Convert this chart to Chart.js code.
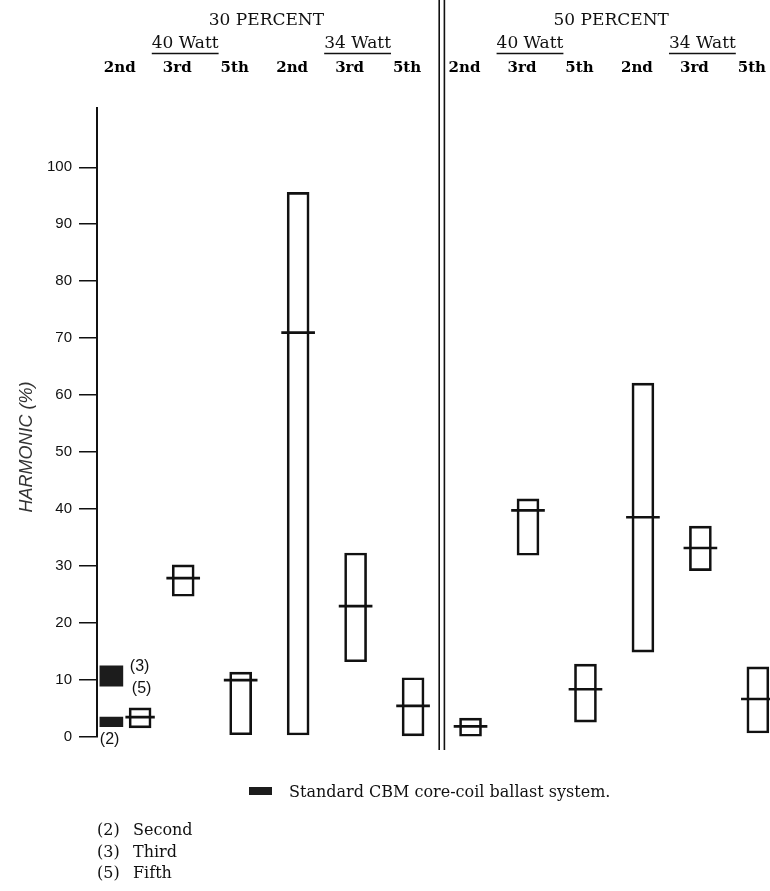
<!DOCTYPE html>
<html><head><meta charset="utf-8">
<script src="https://cdn.jsdelivr.net/npm/chart.js@4.4.0/dist/chart.umd.min.js"></script>
<style>
html,body{margin:0;padding:0;background:#fff;overflow:hidden;}
#wrap{position:relative;width:770px;height:891px;overflow:hidden;background:#fff;}
#c{position:absolute;left:0;top:0;}
.t{position:absolute;font-family:'DejaVu Serif',serif;font-size:16px;color:#111;white-space:pre;line-height:16px;}
</style></head><body>
<div id="wrap"><canvas id="c" width="795" height="891"></canvas></div>
<script>
// ---- data ----
const categories = ['2nd','3rd','5th','2nd','3rd','5th','2nd','3rd','5th','2nd','3rd','5th'];
const wattGroups = ['40 Watt','34 Watt','40 Watt','34 Watt'];
const loadGroups = ['30 PERCENT','50 PERCENT'];
const rangeLow  = [1.6, 24.7, 0.4, 0.35, 13.2, 0.2, 0.0, 31.9, 2.6, 14.9, 29.2, 0.7];
const rangeHigh = [5.1, 30.2, 11.4, 95.6, 32.3, 10.4, 3.3, 41.8, 12.8, 62.1, 37.0, 12.3];
const medians   = [3.3, 27.7, 9.8, 70.8, 22.8, 5.3, 1.7, 39.6, 8.2, 38.4, 33.0, 6.5];
const stdThirdFifth = [8.9, 12.5];
const stdSecond = [1.8, 3.5];
const yTicks = [0,10,20,30,40,50,60,70,80,90,100];
const yTitle = 'HARMONIC (%)';
const legendText = 'Standard CBM core-coil ballast system.';
const footnotes = [['(2)','Second'],['(3)','Third'],['(5)','Fifth']];
const Y_MIN = 0, Y_MAX = 110.4;

// ---- html text ----
const wrap = document.getElementById('wrap');
function addDiv(txt, css){ const d=document.createElement('div'); d.className='t'; d.textContent=txt; d.style.cssText+=css; wrap.appendChild(d); return d; }
addDiv('', 'left:249px;top:787px;width:23px;height:8px;background:#1c1c1c;');
addDiv(legendText, 'left:289px;top:784px;');
footnotes.forEach((f,i)=>{
  const top = 822 + i*21.5;
  addDiv(f[0], 'left:97px;top:'+top+'px;');
  addDiv(f[1], 'left:133px;top:'+top+'px;');
});

const onlyFirst = r => categories.map((_, i) => i === 0 ? r : null);

const annot = {
  id: 'annot',
  afterDraw(chart){
    const ctx = chart.ctx, xs = chart.scales.x;
    const px = i => xs.getPixelForValue(i);
    ctx.save();
    ctx.fillStyle = '#111'; ctx.strokeStyle = '#111';
    ctx.textAlign = 'center'; ctx.textBaseline = 'middle';
    // load headers
    ctx.font = '17px "DejaVu Serif"';
    loadGroups.forEach((t, g) => {
      const x = (px(g*6+2) + px(g*6+3)) / 2 - 3;
      ctx.fillText(t, x, 21);
    });
    // watt headers with underline
    wattGroups.forEach((t, g) => {
      const x = px(g*3+1) + 2;
      ctx.fillText(t, x, 44);
      const w = ctx.measureText(t).width;
      ctx.lineWidth = 1.5;
      ctx.beginPath(); ctx.moveTo(x - w/2, 53.5); ctx.lineTo(x + w/2, 53.5); ctx.stroke();
    });
    // double divider
    const bx = (px(5) + px(6)) / 2;
    ctx.lineWidth = 1.6;
    [-2.6, 2.6].forEach(d => { ctx.beginPath(); ctx.moveTo(bx + d, 0); ctx.lineTo(bx + d, 750); ctx.stroke(); });
    // standard ballast annotations
    ctx.font = '16px "Liberation Sans"';
    ctx.textAlign = 'left';
    const b35 = chart.getDatasetMeta(0).data[0];
    const b2 = chart.getDatasetMeta(1).data[0];
    if (b35 && b2) {
      const r = b35.x + b35.width/2;
      ctx.fillText('(3)', r + 7, b35.y + 1);
      ctx.fillText('(5)', r + 9, b35.base + 2);
      ctx.fillText('(2)', b2.x - b2.width/2, b2.base + 13);
    }
    // y title
    ctx.save();
    ctx.translate(27, 447); ctx.rotate(-Math.PI/2);
    ctx.textAlign = 'center'; ctx.fillStyle = '#333';
    ctx.font = 'italic 18px "Liberation Sans"';
    ctx.fillText(yTitle, 0, 0);
    ctx.restore();
    ctx.restore();
  }
};

new Chart(document.getElementById('c'), {
  type: 'bar',
  data: {
    labels: categories,
    datasets: [
      { label: 'Standard (3),(5)', data: onlyFirst(stdThirdFifth), stack: 'std', backgroundColor: '#1c1c1c', borderWidth: 0, maxBarThickness: 23 },
      { label: 'Standard (2)', data: onlyFirst(stdSecond), stack: 'std', backgroundColor: '#1c1c1c', borderWidth: 0, maxBarThickness: 23 },
      { label: 'Range', data: rangeLow.map((l, i) => [l, rangeHigh[i]]), stack: 'm', backgroundColor: 'rgba(0,0,0,0)', borderColor: '#111', borderWidth: 2, borderSkipped: false, maxBarThickness: 22 },
      { label: 'Median', data: medians.map(m => [m, m]), stack: 'm', backgroundColor: '#111', borderWidth: 0, minBarLength: 2, maxBarThickness: 33 }
    ]
  },
  options: {
    responsive: false, animation: false,
    layout: { padding: { left: 0, top: 0, right: 0, bottom: 154 } },
    datasets: { bar: { skipNull: true, categoryPercentage: 1.0, barPercentage: 1.0 } },
    plugins: { legend: { display: false }, tooltip: { enabled: false }, title: { display: false } },
    scales: {
      x: {
        type: 'category', position: 'top',
        grid: { display: false }, border: { display: false },
        ticks: { color: '#000', font: { family: 'DejaVu Serif', size: 15, weight: 'bold' }, padding: 23, labelOffset: -6, autoSkip: false, maxRotation: 0 },
        afterFit: s => { s.height = 108; }
      },
      y: {
        min: Y_MIN, max: Y_MAX, stacked: false,
        afterBuildTicks: s => { s.ticks = yTicks.map(v => ({ value: v })); },
        afterFit: s => { s.width = 97; },
        grid: { display: true, drawOnChartArea: false, drawTicks: true, tickLength: 18, color: '#111', lineWidth: 1.5 },
        border: { display: true, color: '#111', width: 2 },
        ticks: { color: '#111', font: { family: 'Liberation Sans', size: 15 }, padding: 7 }
      }
    }
  },
  plugins: [annot]
});
</script>
</body></html>
